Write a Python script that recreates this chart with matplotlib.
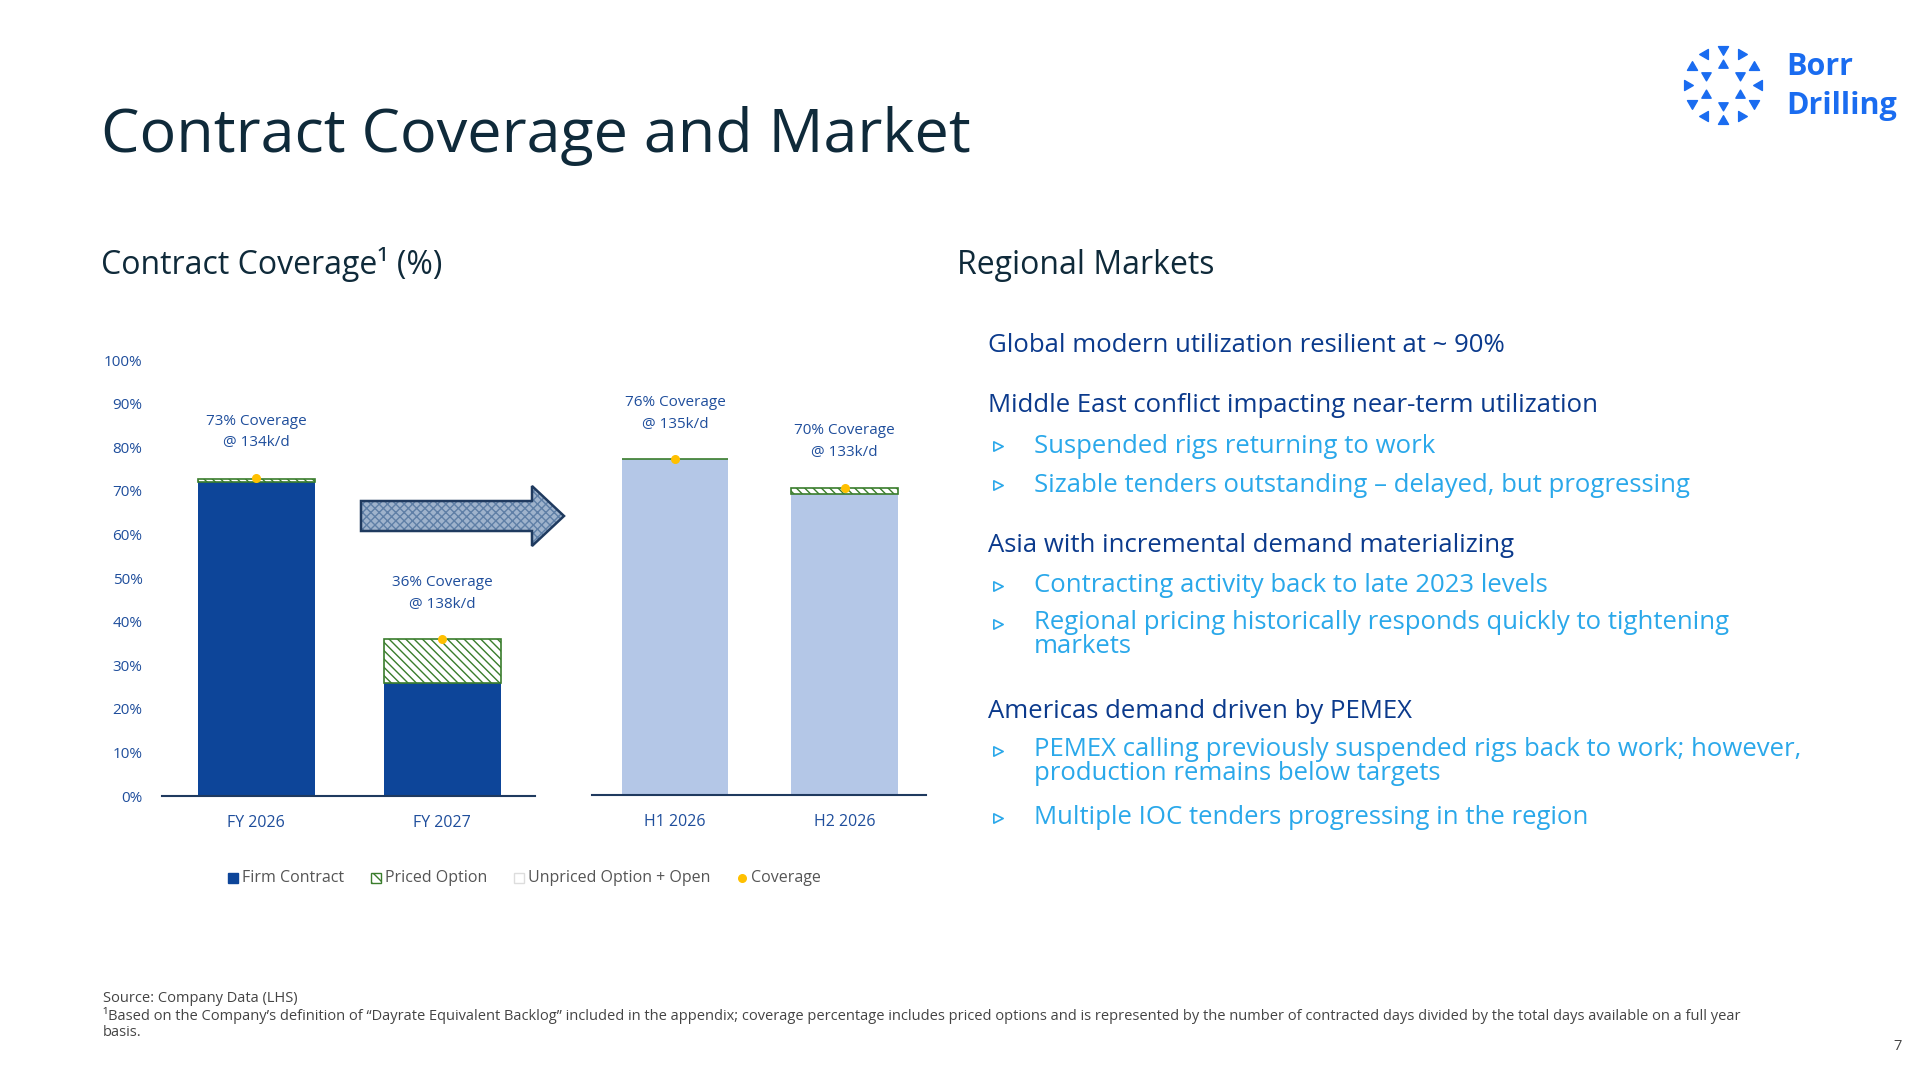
import matplotlib
matplotlib.use("Agg")
import matplotlib.pyplot as plt
from matplotlib.patches import Polygon
import numpy as np

plt.rcParams['font.family'] = ['Open Sans', 'DejaVu Sans']
plt.rcParams['hatch.linewidth'] = 1.0

W, H = 1919, 1076
# data
cats_fy = ["FY 2026", "FY 2027"]
firm_fy = [72, 26]
priced_fy = [0.6, 10]
cov_fy = [73, 36]
lab_fy = ["73% Coverage\n@ 134k/d", "36% Coverage\n@ 138k/d"]
cats_h = ["H1 2026", "H2 2026"]
firm_h = [77, 69]
priced_h = [0, 1.5]
cov_h = [77, 70.5]
lab_h = ["76% Coverage\n@ 135k/d", "70% Coverage\n@ 133k/d"]
yticks = [0, 10, 20, 30, 40, 50, 60, 70, 80, 90, 100]

headers = ["Global modern utilization resilient at ~ 90%",
           "Middle East conflict impacting near-term utilization",
           "Asia with incremental demand materializing",
           "Americas demand driven by PEMEX"]
bullets = [[],
           ["Suspended rigs returning to work",
            "Sizable tenders outstanding – delayed, but progressing"],
           ["Contracting activity back to late 2023 levels",
            "Regional pricing historically responds quickly to tightening\nmarkets"],
           ["PEMEX calling previously suspended rigs back to work; however,\nproduction remains below targets",
            "Multiple IOC tenders progressing in the region"]]

FIRM = "#0d4599"; LIGHT = "#b4c7e7"; GREEN = "#3a7d2c"; GOLD = "#ffc000"
AX = "#1f4e9c"; NAVY = "#0f2a3a"; HDR = "#0b3a8c"; BUL = "#2aa8ea"

fig = plt.figure(figsize=(W/100, H/100), dpi=100)
def P(x, y):
    return (x/W, 1-y/H)

def axbox(x0, x1, y0=360, y1=796):
    return [x0/W, 1-y1/H, (x1-x0)/W, (y1-y0)/H]

def draw(ax, cats, firm, priced, cov, labs, fcolor, xl, ticks):
    x = np.arange(len(cats))
    ax.bar(x, firm, 0.63, color=fcolor, zorder=2)
    ax.bar(x, priced, 0.63, bottom=firm, color="white", edgecolor=GREEN,
           hatch="\\\\\\\\", linewidth=1.2, zorder=2)
    ax.scatter(x, cov, s=30, color=GOLD, zorder=4)
    for xi, c, l in zip(x, cov, labs):
        ax.annotate(l, (xi, c), xytext=(0, 33), textcoords="offset points",
                    ha="center", va="center", fontsize=11, color=AX, linespacing=1.6)
    ax.set_xlim(*xl); ax.set_ylim(0, 100)
    ax.set_xticks(x, cats, fontsize=11.5, color=AX)
    for s in ["top", "right", "left"]:
        ax.spines[s].set_visible(False)
    ax.spines["bottom"].set_color("#1f3a5f"); ax.spines["bottom"].set_linewidth(1.5)
    ax.tick_params(axis="x", length=0, pad=14)
    if ticks:
        ax.set_yticks(yticks, [f"{t}%" for t in yticks], fontsize=11, color=AX)
        ax.tick_params(axis="y", length=0, pad=14)
    else:
        ax.set_yticks([])
    ax.set_facecolor("none")

ax1 = fig.add_axes(axbox(162, 535))
draw(ax1, cats_fy, firm_fy, priced_fy, cov_fy, lab_fy, FIRM, (-0.507, 1.5), True)
ax2 = fig.add_axes(axbox(592, 926, 359, 795))
draw(ax2, cats_h, firm_h, priced_h, cov_h, lab_h, LIGHT, (-0.49, 1.48), False)

ov = fig.add_axes([0, 0, 1, 1]); ov.set_xlim(0, W); ov.set_ylim(H, 0); ov.axis("off")
arrow = [(361, 501), (532, 501), (532, 486), (564, 516), (532, 546), (532, 531), (361, 531)]
ov.add_patch(Polygon(arrow, closed=True, facecolor="#9fb3cc", edgecolor="#5f7fa6",
                     hatch="xxxx", linewidth=0))
ov.add_patch(Polygon(arrow, closed=True, facecolor="none", edgecolor="#1f3a5f", linewidth=1.8))

ly = 878
items = [("Firm Contract", "firm"), ("Priced Option", "priced"),
         ("Unpriced Option + Open", "open"), ("Coverage", "cov")]
xs = [228, 371, 514, 737]
for (t, k), x0 in zip(items, xs):
    if k == "firm":
        ov.add_patch(plt.Rectangle((x0, ly-5), 10, 10, color=FIRM))
    elif k == "priced":
        ov.add_patch(plt.Rectangle((x0, ly-5), 10, 10, facecolor="white", edgecolor=GREEN, hatch="\\\\\\"))
    elif k == "open":
        ov.add_patch(plt.Rectangle((x0, ly-5), 10, 10, facecolor="white", edgecolor="#dddddd"))
    else:
        ov.scatter([x0+5], [ly], s=30, color=GOLD)
    ov.text(x0+14, ly, t, fontsize=11.5, color="#555555", va="center")

fig.text(*P(101, 136), "Contract Coverage and Market", fontsize=44, color=NAVY, va="center")
fig.text(*P(101, 265), "Contract Coverage\u00b9 (%)", fontsize=23, color=NAVY, va="center")
fig.text(*P(957, 265), "Regional Markets", fontsize=23, color=NAVY, va="center")

hy = [345, 406, 546, 712]
by = [[], [446, 485], [586, 624], [751, 818]]
for h, y, bl, bys in zip(headers, hy, bullets, by):
    fig.text(*P(988, y), h, fontsize=18.5, color=HDR, va="center")
    for b, yy in zip(bl, bys):
        ov.scatter([998], [yy], marker=">", s=45, facecolor="white", edgecolor=BUL, linewidth=1.2)
        multi = "\n" in b
        fig.text(*P(1034, yy - (14 if multi else 0)), b, fontsize=18.5, color=BUL,
                 va="top" if multi else "center", linespacing=0.95)

fig.text(*P(103, 998), "Source: Company Data (LHS)", fontsize=10.5, color="#444444", va="center")
fig.text(*P(103, 1016), "\u00b9Based on the Company\u2019s definition of \u201cDayrate Equivalent Backlog\u201d included in the appendix; coverage percentage includes priced options and is represented by the number of contracted days divided by the total days available on a full year",
         fontsize=10.5, color="#444444", va="center")
fig.text(*P(103, 1032), "basis.", fontsize=10.5, color="#444444", va="center")
fig.text(*P(1902, 1047), "7", fontsize=10.5, color="#444444", va="center", ha="right")

cx, cy = 1723, 85
ang = np.linspace(0, 2*np.pi, 12, endpoint=False)
for a in ang:
    ox, oy = cx + 36*np.cos(a), cy + 36*np.sin(a)
    ov.scatter([ox], [oy], marker=(3, 0, np.degrees(-a) + 90), s=70, color="#1a6cf0")
for a in ang[::2] + np.pi/6:
    ox, oy = cx + 20*np.cos(a), cy + 20*np.sin(a)
    ov.scatter([ox], [oy], marker=(3, 0, np.degrees(-a) - 90), s=60, color="#1a6cf0")
fig.text(*P(1786, 67), "Borr", fontsize=22, fontweight="bold", color="#1a6cf0", va="center")
fig.text(*P(1786, 106), "Drilling", fontsize=22, fontweight="bold", color="#1a6cf0", va="center")

fig.savefig("out.png", dpi=100, facecolor="white")
